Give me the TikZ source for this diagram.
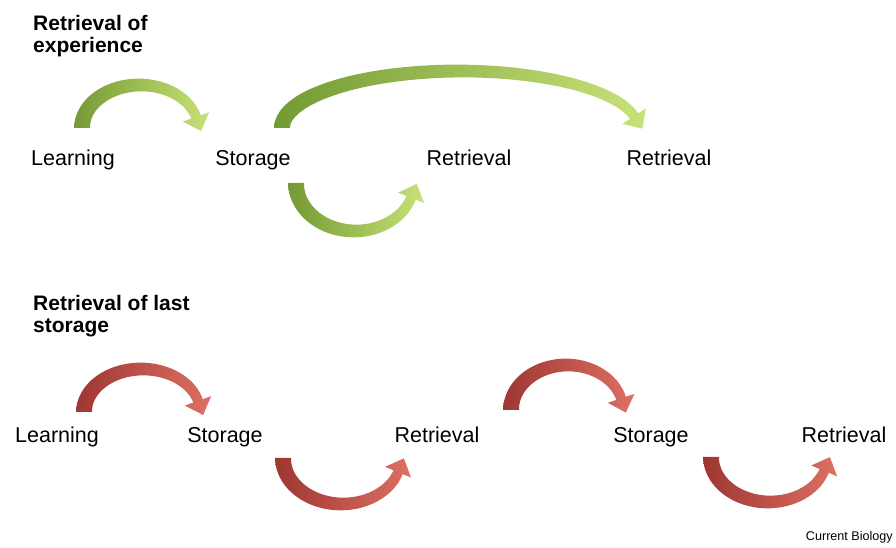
\documentclass[tikz,border=0pt]{standalone}
\usepackage{fontspec}
\setmainfont{Liberation Sans}

\definecolor{grdark}{RGB}{116,154,52}
\definecolor{grlight}{RGB}{200,226,120}
\definecolor{rddark}{RGB}{158,54,50}
\definecolor{rdlight}{RGB}{222,112,100}

% band and head sizes of the bent arrows
\def\tailw{16}
\def\headw{10}
\def\headh{14}
\def\headl{15}

% #1,#2 centre, #3,#4 radii, #5 up (1) or down (-1), #6 end angle, #7,#8 colours
\newcommand{\bentarrow}[8]{%
\begin{scope}[declare function={
  nn(\t)=sqrt((#4/100)*(#4/100)*cos(\t)*cos(\t)+(#3/100)*(#3/100)*sin(\t)*sin(\t));
  ww(\t)=0.5*(\headw+(\tailw-\headw)*(\t-#6)/(180-#6));
  ex(\t,\k)=#1+#3*cos(\t)+\k*ww(\t)*(#4/100)*cos(\t)/nn(\t);
  ey(\t,\k)=#2+(#5)*#4*sin(\t)+\k*ww(\t)*(#5)*(#3/100)*sin(\t)/nn(\t);
}]
\pgfmathsetmacro{\px}{#1+#3*cos(#6)}
\pgfmathsetmacro{\py}{#2+(#5)*#4*sin(#6)}
\pgfmathsetmacro{\nx}{(#4/100)*cos(#6)/nn(#6)}
\pgfmathsetmacro{\ny}{(#5)*(#3/100)*sin(#6)/nn(#6)}
\pgfmathsetmacro{\tx}{(#3/100)*sin(#6)/nn(#6)}
\pgfmathsetmacro{\ty}{-1*(#5)*(#4/100)*cos(#6)/nn(#6)}
\shade[left color=#7, right color=#8]
  plot[domain=180:#6, samples=40, variable=\t] ({ex(\t,1)},{ey(\t,1)})
  -- ({\px+\headh*\nx},{\py+\headh*\ny})
  -- ({\px+\headl*\tx},{\py+\headl*\ty})
  -- ({\px-\headh*\nx},{\py-\headh*\ny})
  -- plot[domain=#6:180, samples=40, variable=\t] ({ex(\t,-1)},{ey(\t,-1)})
  -- cycle;
\end{scope}}

\begin{document}
\begin{tikzpicture}[x=1pt, y=1pt,
  lbl/.style={font=\fontsize{21.5}{24}\selectfont, anchor=base, inner sep=0pt},
  ttl/.style={font=\fontsize{21}{22}\selectfont\bfseries, align=left, anchor=north west, inner sep=0pt}]
\useasboundingbox (0,0) rectangle (896,548);

% retrieval of experience
\node[ttl] (ttlA) at (33,533) {Retrieval of\\experience};
\node[lbl] (lrnA) at (73,382) {Learning};
\node[lbl] (stoA) at (253,382) {Storage};
\node[lbl] (retA) at (469,382) {Retrieval};
\node[lbl] (retB) at (669,382) {Retrieval};

\bentarrow{140}{420}{58}{43}{1}{15}{grdark}{grlight}
\bentarrow{460}{420}{178}{57}{1}{12}{grdark}{grlight}
\bentarrow{355}{365}{59}{48}{-1}{18}{grdark}{grlight}

% retrieval of last storage
\node[ttl] (ttlB) at (33,253) {Retrieval of last\\storage};
\node[lbl] (lrnB) at (57,105) {Learning};
\node[lbl] (stoB) at (225,105) {Storage};
\node[lbl] (retC) at (437,105) {Retrieval};
\node[lbl] (stoC) at (651,105) {Storage};
\node[lbl] (retD) at (844,105) {Retrieval};

\bentarrow{142}{136}{58}{43}{1}{15}{rddark}{rdlight}
\bentarrow{342}{90}{59}{46}{-1}{18}{rddark}{rdlight}
\bentarrow{567}{138}{56}{45}{1}{15}{rddark}{rdlight}
\bentarrow{769}{91}{58}{45}{-1}{18}{rddark}{rdlight}

\node[font=\fontsize{12.6}{14}\selectfont, anchor=base east, inner sep=0pt] (src) at (893,7) {Current Biology};
\end{tikzpicture}
\end{document}
